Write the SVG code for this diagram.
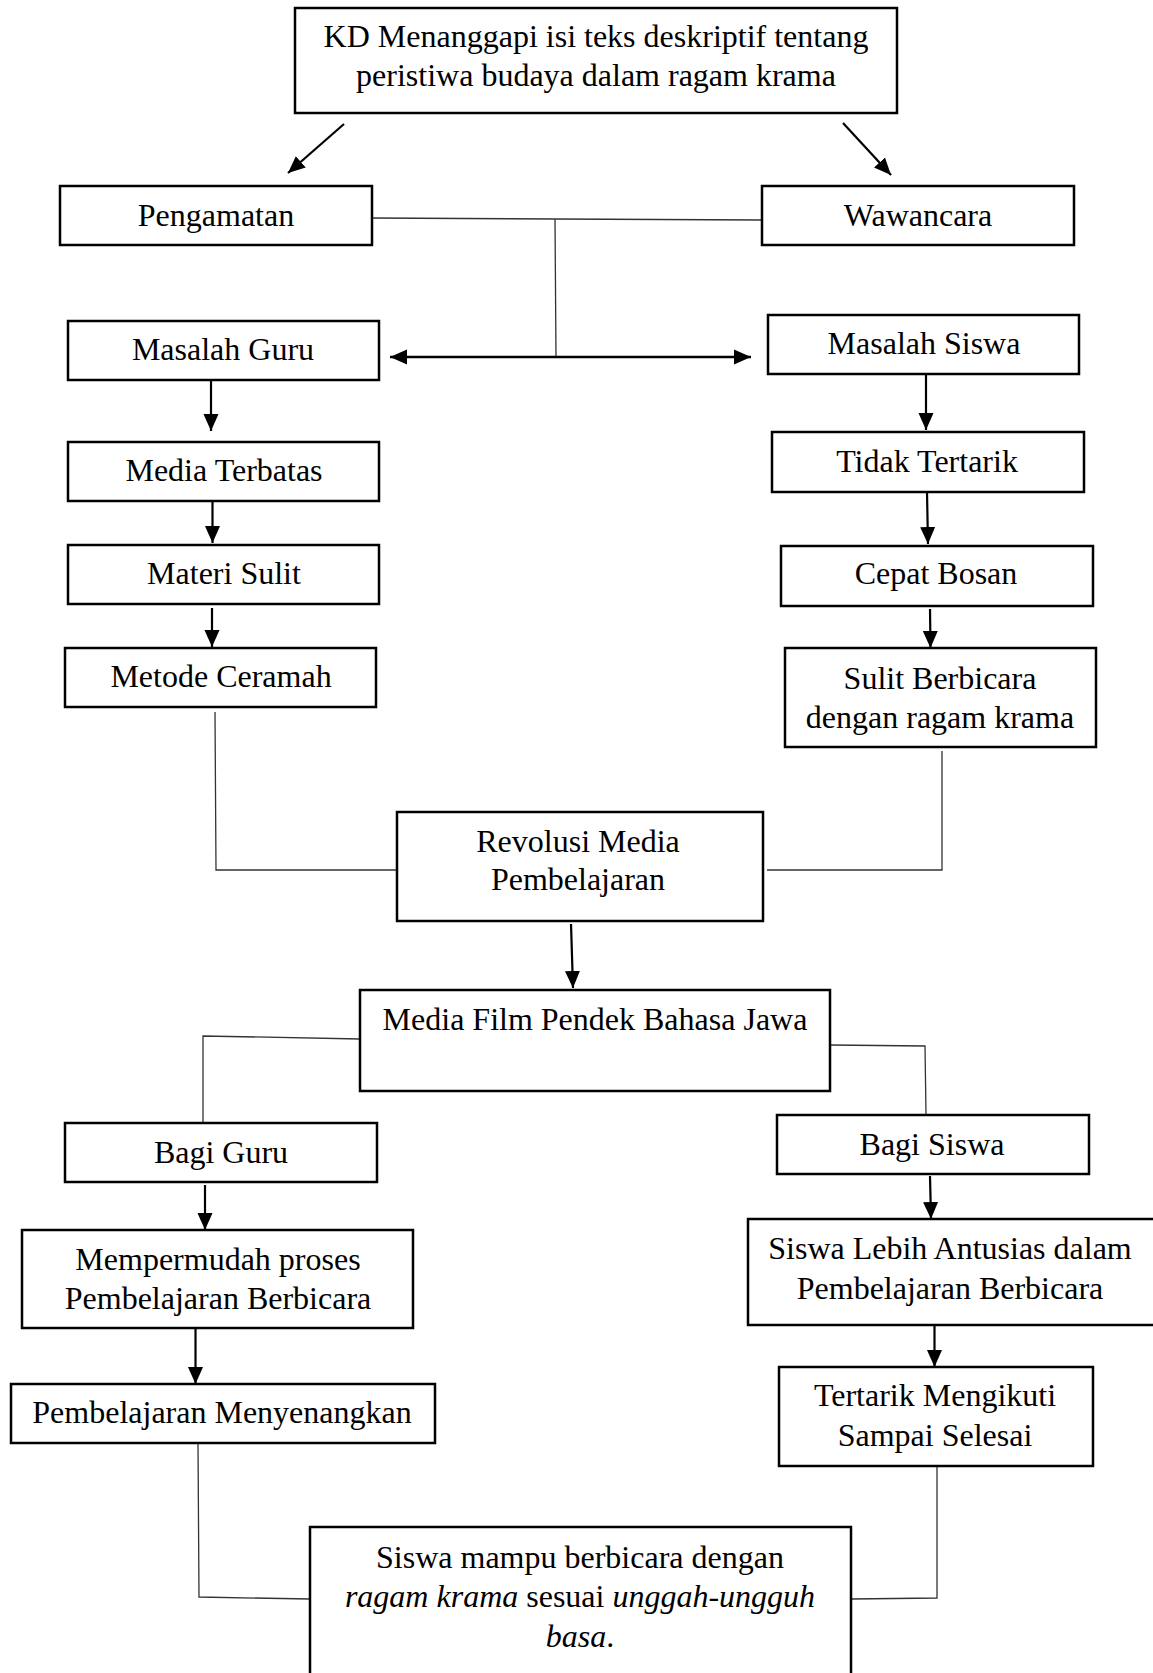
<svg xmlns="http://www.w3.org/2000/svg" width="1153" height="1673" viewBox="0 0 1153 1673">
<style>
.box{fill:#fff;stroke:#000;stroke-width:2.5}
.t{font-family:"Liberation Serif","Times New Roman",serif;font-size:32px;fill:#000;text-anchor:middle}
.i{font-style:italic}
.arr{fill:none;stroke:#000;stroke-width:2.2;marker-end:url(#ah)}
.dbl{fill:none;stroke:#000;stroke-width:2.5;marker-end:url(#ah);marker-start:url(#ah)}
.ln{fill:none;stroke:#333;stroke-width:1.3}
</style>
<defs>
<marker id="ah" markerUnits="userSpaceOnUse" markerWidth="18" markerHeight="16" refX="17" refY="7.5" orient="auto-start-reverse" viewBox="0 0 18 15">
<path d="M0,0 L17,7.5 L0,15 z" fill="#000"/>
</marker>
</defs>
<rect width="1153" height="1673" fill="#fff"/>
<g id="connectors">
<line class="arr" x1="344" y1="124" x2="288" y2="173"/>
<line class="arr" x1="843" y1="123" x2="891" y2="175"/>
<polyline class="ln" points="372,218 555,219 762,220"/>
<line class="ln" x1="555" y1="219" x2="556" y2="356"/>
<line class="dbl" x1="390" y1="357" x2="751" y2="357"/>
<line class="arr" x1="211" y1="380" x2="211" y2="431"/>
<line class="arr" x1="212.5" y1="499" x2="212.5" y2="543"/>
<line class="arr" x1="212" y1="608" x2="212" y2="647"/>
<line class="arr" x1="926" y1="374" x2="926" y2="430"/>
<line class="arr" x1="927" y1="492" x2="928" y2="544"/>
<line class="arr" x1="930" y1="609" x2="930.5" y2="648"/>
<polyline class="ln" points="215,712 216,870 397,870"/>
<polyline class="ln" points="767,870 942,870 942,751"/>
<line class="arr" x1="571" y1="924" x2="573" y2="988"/>
<polyline class="ln" points="360,1039 203,1036 203,1124"/>
<polyline class="ln" points="830,1045 925,1046 926,1114"/>
<line class="arr" x1="205" y1="1185" x2="205" y2="1230"/>
<line class="arr" x1="930" y1="1176" x2="931" y2="1219"/>
<line class="arr" x1="195.5" y1="1328" x2="195.5" y2="1384"/>
<line class="arr" x1="934.5" y1="1325" x2="934.5" y2="1367"/>
<polyline class="ln" points="198,1444 199,1597 310,1599"/>
<polyline class="ln" points="851,1599 937,1598 937,1467"/>
</g>
<g id="n-kd"><rect class="box" x="295" y="8" width="602" height="105"/>
<text class="t" x="596" y="47">KD Menanggapi isi teks deskriptif tentang</text>
<text class="t" x="596" y="86">peristiwa budaya dalam ragam krama</text></g>
<g id="n-pengamatan"><rect class="box" x="60" y="186" width="312" height="59"/><text class="t" x="216" y="226">Pengamatan</text></g>
<g id="n-wawancara"><rect class="box" x="762" y="186" width="312" height="59"/><text class="t" x="918" y="226">Wawancara</text></g>
<g id="n-masalah-guru"><rect class="box" x="68" y="321" width="311" height="59"/><text class="t" x="223" y="360">Masalah Guru</text></g>
<g id="n-masalah-siswa"><rect class="box" x="768" y="315" width="311" height="59"/><text class="t" x="924" y="354">Masalah Siswa</text></g>
<g id="n-media-terbatas"><rect class="box" x="68" y="442" width="311" height="59"/><text class="t" x="224" y="481">Media Terbatas</text></g>
<g id="n-materi-sulit"><rect class="box" x="68" y="545" width="311" height="59"/><text class="t" x="224" y="584">Materi Sulit</text></g>
<g id="n-metode-ceramah"><rect class="box" x="65" y="648" width="311" height="59"/><text class="t" x="221" y="687">Metode Ceramah</text></g>
<g id="n-tidak-tertarik"><rect class="box" x="772" y="432" width="312" height="60"/><text class="t" x="927" y="472">Tidak Tertarik</text></g>
<g id="n-cepat-bosan"><rect class="box" x="781" y="546" width="312" height="60"/><text class="t" x="936" y="584">Cepat Bosan</text></g>
<g id="n-sulit-berbicara"><rect class="box" x="785" y="648" width="311" height="99"/>
<text class="t" x="940" y="689">Sulit Berbicara</text><text class="t" x="940" y="728">dengan ragam krama</text></g>
<g id="n-revolusi"><rect class="box" x="397" y="812" width="366" height="109"/>
<text class="t" x="578" y="852">Revolusi Media</text><text class="t" x="578" y="890">Pembelajaran</text></g>
<g id="n-media-film"><rect class="box" x="360" y="990" width="470" height="101"/><text class="t" x="595" y="1030">Media Film Pendek Bahasa Jawa</text></g>
<g id="n-bagi-guru"><rect class="box" x="65" y="1123" width="312" height="59"/><text class="t" x="221" y="1163">Bagi Guru</text></g>
<g id="n-bagi-siswa"><rect class="box" x="777" y="1115" width="312" height="59"/><text class="t" x="932" y="1155">Bagi Siswa</text></g>
<g id="n-mempermudah"><rect class="box" x="22" y="1230" width="391" height="98"/>
<text class="t" x="218" y="1270">Mempermudah proses</text><text class="t" x="218" y="1309">Pembelajaran Berbicara</text></g>
<g id="n-siswa-lebih"><rect class="box" x="748" y="1219" width="410" height="106"/>
<text class="t" x="950" y="1259">Siswa Lebih Antusias dalam</text><text class="t" x="950" y="1299">Pembelajaran Berbicara</text></g>
<g id="n-menyenangkan"><rect class="box" x="11" y="1384" width="424" height="59"/><text class="t" x="222" y="1423">Pembelajaran Menyenangkan</text></g>
<g id="n-tertarik"><rect class="box" x="779" y="1367" width="314" height="99"/>
<text class="t" x="935" y="1406">Tertarik Mengikuti</text><text class="t" x="935" y="1446">Sampai Selesai</text></g>
<g id="n-final"><rect class="box" x="310" y="1527" width="541" height="160"/>
<text class="t" x="580" y="1568">Siswa mampu berbicara dengan</text>
<text class="t" x="580" y="1607"><tspan class="i">ragam krama</tspan> sesuai <tspan class="i">unggah-ungguh</tspan></text>
<text class="t" x="580" y="1647"><tspan class="i">basa</tspan>.</text></g>
</svg>
